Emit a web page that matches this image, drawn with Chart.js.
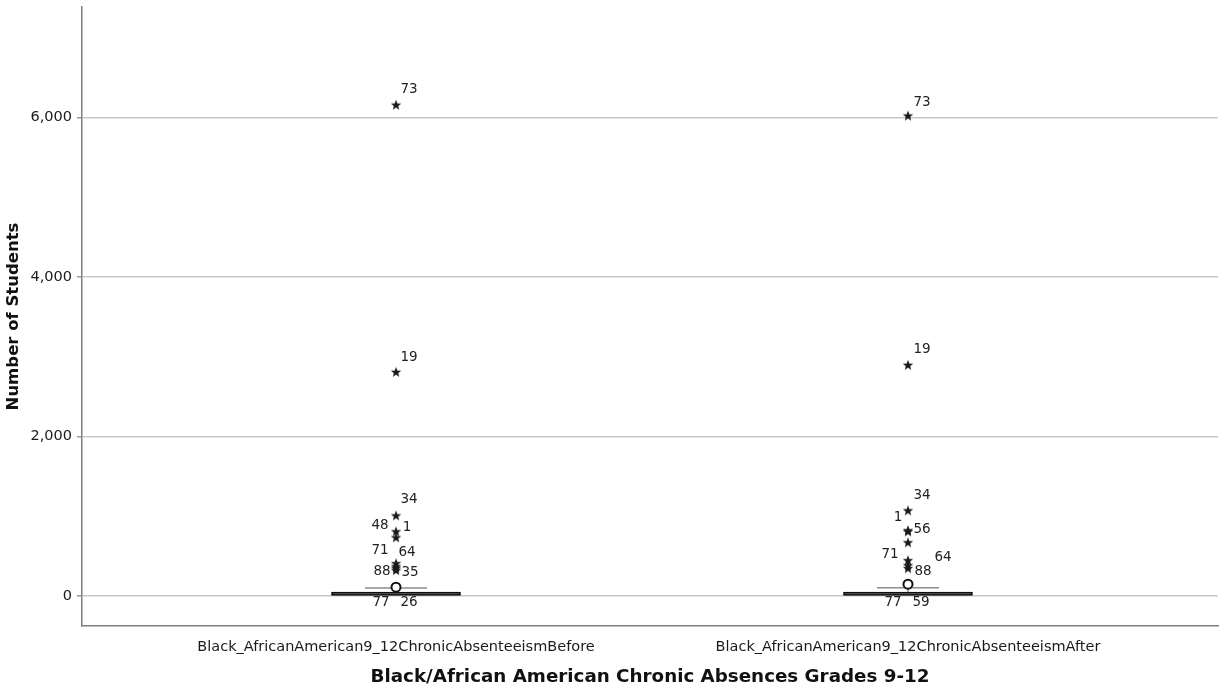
<!DOCTYPE html>
<html>
<head>
<meta charset="utf-8">
<script src="https://cdn.jsdelivr.net/npm/chart.js@4.4.1/dist/chart.umd.min.js"></script>
<style>
  html, body { margin: 0; padding: 0; background: #ffffff; }
  #wrap { width: 1225px; height: 692px; }
</style>
</head>
<body>
<div id="wrap"><canvas id="chart" width="1225" height="692"></canvas></div>
<script>
// Variables shown on the horizontal axis
const categories = [
  'Black_AfricanAmerican9_12ChronicAbsenteeismBefore',
  'Black_AfricanAmerican9_12ChronicAbsenteeismAfter'
];
const categoryPositions = [1, 2];

// Box summaries per variable
const boxQ1 = [0, 0];
const boxQ3 = [50, 50];
const whiskerLow = [0, 0];
const whiskerHigh = [100, 104];

// Extreme values (stars) with case numbers
const beforeExtremeIds = ['73', '19', '34', '48', '1', '71', '64', '88', '35'];
const beforeExtremeValues = [6162, 2812, 1012, 812, 737, 412, 375, 350, 325];
const afterExtremeIds = ['73', '19', '34', '1', '56', '', '71', '64', '88'];
const afterExtremeValues = [6025, 2900, 1075, 825, 812, 675, 450, 387, 350];

// Mild outliers (circles)
const outlierValues = [112, 150];

// Case numbers printed under each box
const lowCaseIds = [['77', '26'], ['77', '59']];

// Value axis
const yTickValues = [0, 2000, 4000, 6000];
const yMin = -375;
const yMax = 7387;

// Pixel offsets of case labels relative to their marks
const beforeLabelOffsets = [[13,-15],[13,-14],[13,-16],[-16,-6],[11,-10],[-16,-13],[11,-14],[-14,3],[14,2]];
const afterLabelOffsets = [[14,-13],[14,-15],[14,-15],[-10,-13],[14,-2],[0,0],[-18,-6],[35,-8],[15,3]];
const lowLabelOffsets = [[-15, 6], [13, 6]];

const FONT = '"DejaVu Sans", "Liberation Sans", Arial, sans-serif';

// Filled five-point star used as the extreme-value marker
function makeStar(size, color) {
  const c = document.createElement('canvas');
  c.width = size; c.height = size;
  const g = c.getContext('2d');
  const cx = size / 2, cy = size / 2 + 0.5;
  const R = size / 2 - 0.5, r = R * 0.42;
  g.beginPath();
  for (let i = 0; i < 10; i++) {
    const a = -Math.PI / 2 + i * Math.PI / 5;
    const rad = i % 2 === 0 ? R : r;
    const px = cx + rad * Math.cos(a), py = cy + rad * Math.sin(a);
    if (i === 0) g.moveTo(px, py); else g.lineTo(px, py);
  }
  g.closePath();
  g.fillStyle = color;
  g.fill();
  return c;
}
const starImg = makeStar(12, '#1a1a1a');

const extremeSets = [
  { ids: beforeExtremeIds, values: beforeExtremeValues, offsets: beforeLabelOffsets },
  { ids: afterExtremeIds, values: afterExtremeValues, offsets: afterLabelOffsets }
];

const boxData = categoryPositions.map((x, i) => ({ x: x, y: [boxQ1[i], boxQ3[i]] }));
const extremeData = [];
extremeSets.forEach((s, ci) => s.values.forEach(v => extremeData.push({ x: categoryPositions[ci], y: v })));
const outlierData = categoryPositions.map((x, i) => ({ x: x, y: outlierValues[i] }));

// Whiskers and case labels, placed through the chart scales
const annotate = {
  id: 'annotate',
  beforeDatasetsDraw(chart) {
    const { ctx, scales: { x, y } } = chart;
    ctx.save();
    ctx.strokeStyle = '#8c8c8c';
    ctx.lineWidth = 1.5;
    categoryPositions.forEach((pos, i) => {
      const cx = x.getPixelForValue(pos);
      const half = (x.getPixelForValue(pos + 0.0605) - cx);
      const yTop = y.getPixelForValue(whiskerHigh[i]);
      const yQ3 = y.getPixelForValue(boxQ3[i]);
      ctx.beginPath();
      ctx.moveTo(cx, yQ3); ctx.lineTo(cx, yTop);
      ctx.moveTo(cx - half, yTop); ctx.lineTo(cx + half, yTop);
      ctx.stroke();
    });
    ctx.restore();
  },
  afterDatasetsDraw(chart) {
    const { ctx, scales: { x, y } } = chart;
    ctx.save();
    ctx.font = '13.5px ' + FONT;
    ctx.fillStyle = '#222222';
    ctx.textAlign = 'center';
    ctx.textBaseline = 'middle';
    extremeSets.forEach((s, ci) => {
      const cx = x.getPixelForValue(categoryPositions[ci]);
      s.ids.forEach((id, k) => {
        if (!id) return;
        const py = y.getPixelForValue(s.values[k]);
        ctx.fillText(id, cx + s.offsets[k][0], py + s.offsets[k][1]);
      });
      const yLow = y.getPixelForValue(whiskerLow[ci]);
      lowCaseIds[ci].forEach((id, k) => {
        ctx.fillText(id, cx + lowLabelOffsets[k][0], yLow + lowLabelOffsets[k][1]);
      });
    });
    ctx.restore();
  }
};

new Chart(document.getElementById('chart'), {
  type: 'bar',
  data: {
    datasets: [
      {
        type: 'bar',
        data: boxData,
        backgroundColor: '#1d4469',
        borderColor: '#0d0d0d',
        borderWidth: 1.5,
        borderSkipped: false,
        barThickness: 129,
        order: 3
      },
      {
        type: 'scatter',
        data: outlierData,
        pointStyle: 'circle',
        pointRadius: 4.5,
        pointBorderWidth: 2,
        pointBorderColor: '#111111',
        pointBackgroundColor: '#ffffff',
        order: 1
      },
      {
        type: 'scatter',
        data: extremeData,
        pointStyle: starImg,
        pointRadius: 6,
        order: 2
      }
    ]
  },
  options: {
    responsive: false,
    animation: false,
    events: [],
    layout: { padding: { top: 5, right: 3, left: 0, bottom: 0 } },
    plugins: { legend: { display: false }, tooltip: { enabled: false } },
    scales: {
      x: {
        type: 'linear',
        offset: false,
        min: 0.3867,
        max: 2.6055,
        afterBuildTicks(scale) { scale.ticks = categoryPositions.map(v => ({ value: v })); },
        afterFit(scale) {
          scale.height = 66;
          scale.paddingLeft = 0;
          scale.paddingRight = 0;
        },
        grid: { display: false },
        border: { display: true, color: '#7f7f7f', width: 1.5 },
        ticks: {
          padding: 5,
          maxRotation: 0,
          autoSkip: false,
          color: '#1a1a1a',
          font: { family: FONT, size: 14.5 },
          callback(v) { const i = categoryPositions.indexOf(v); return i >= 0 ? categories[i] : ''; }
        },
        title: {
          display: true,
          text: 'Black/African American Chronic Absences Grades 9-12',
          color: '#111111',
          font: { family: FONT, size: 18.3, weight: 'bold' },
          padding: { top: 0, bottom: 4 }
        }
      },
      y: {
        type: 'linear',
        min: yMin,
        max: yMax,
        afterBuildTicks(scale) { scale.ticks = yTickValues.map(v => ({ value: v })); },
        afterFit(scale) {
          scale.width = 82;
          scale.paddingTop = 0;
          scale.paddingBottom = 0;
        },
        grid: { color: '#c8c8c8', lineWidth: 1.5, tickLength: 5, tickColor: '#9a9a9a' },
        border: { display: true, color: '#7f7f7f', width: 1.5 },
        ticks: {
          padding: 5,
          color: '#1a1a1a',
          font: { family: FONT, size: 14.5 },
          callback(v) { return v.toLocaleString('en-US'); }
        },
        title: {
          display: true,
          text: 'Number of Students',
          color: '#111111',
          font: { family: FONT, size: 16.5, weight: 'bold' },
          padding: { top: 4, bottom: 0 }
        }
      }
    }
  },
  plugins: [annotate]
});
</script>
</body>
</html>
